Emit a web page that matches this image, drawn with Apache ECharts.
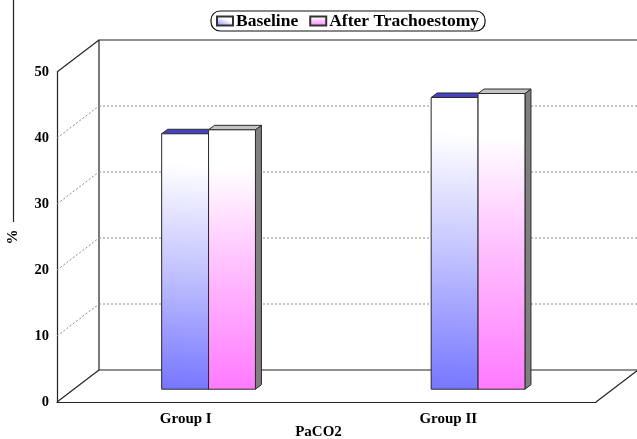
<!DOCTYPE html>
<html>
<head>
<meta charset="utf-8">
<script src="https://cdn.jsdelivr.net/npm/echarts@6/dist/echarts.min.js"></script>
<style>
  html, body { margin: 0; padding: 0; background: #fff; }
  #chart { width: 637px; height: 439px; }
</style>
</head>
<body>
<div id="chart"></div>
<script>
// PaCO2 before and after tracheostomy, per group
const categories = ['Group I', 'Group II'];
const baseline = [38.7, 44.2];
const afterTracheostomy = [39.3, 44.8];
const seriesNames = ['Baseline', 'After Trachoestomy'];
const yTicks = [0, 10, 20, 30, 40, 50];

const FONT = '"Liberation Serif", "Times New Roman", serif';
// depth of the box (back wall offset) and of the bars
const DX = 42, DY = -32;
const BAR_DEPTH = 0.4;     // bars stand at this fraction of the box depth
const BAR_DX = 6, BAR_DY = -4.5;

const chart = echarts.init(document.getElementById('chart'), null, { renderer: 'canvas' });

const blueFill = new echarts.graphic.LinearGradient(0, 1, 0.25, 0, [
  { offset: 0, color: '#7676ff' },
  { offset: 0.5, color: '#c8c8ff' },
  { offset: 0.88, color: '#ffffff' },
  { offset: 1, color: '#ffffff' }
]);
const pinkFill = new echarts.graphic.LinearGradient(0, 1, 0, 0, [
  { offset: 0, color: '#ff7aff' },
  { offset: 0.5, color: '#ffc4ff' },
  { offset: 0.85, color: '#ffffff' },
  { offset: 1, color: '#ffffff' }
]);

const barStyles = [
  { fill: blueFill, top: '#4343c4', side: '#3a3aa0' },
  { fill: pinkFill, top: '#c4c4c4', side: '#7f7f7f' }
];

function frameItem(params, api) {
  const cs = params.coordSys;
  const x0 = cs.x, x1 = cs.x + cs.width;
  const yT = cs.y, yB = cs.y + cs.height;
  const solid = { stroke: '#222', lineWidth: 1.2, fill: null };
  const dotted = { stroke: '#8a8a8a', lineWidth: 1, lineDash: [2, 2], fill: null };
  const children = [];
  // back wall
  children.push({ type: 'polyline', shape: { points: [[x1 + DX, yT + DY], [x0 + DX, yT + DY], [x0 + DX, yB + DY], [x1 + DX, yB + DY]] }, style: solid });
  // depth edges
  children.push({ type: 'line', shape: { x1: x0, y1: yT, x2: x0 + DX, y2: yT + DY }, style: solid });
  children.push({ type: 'line', shape: { x1: x0, y1: yB, x2: x0 + DX, y2: yB + DY }, style: solid });
  children.push({ type: 'line', shape: { x1: x1, y1: yB, x2: x1 + DX, y2: yB + DY }, style: solid });
  // gridlines on side and back wall
  yTicks.slice(1, -1).forEach(function (v) {
    const y = api.coord([0, v])[1];
    children.push({ type: 'line', shape: { x1: x0, y1: y, x2: x0 + DX, y2: y + DY }, style: dotted });
    children.push({ type: 'line', shape: { x1: x0 + DX, y1: y + DY, x2: x1 + DX, y2: y + DY }, style: dotted });
  });
  return { type: 'group', children: children };
}

function barRenderer(k) {
  return function (params, api) {
    const idx = api.value(0), v = api.value(1);
    const band = api.size([1, 0])[0];
    const bw = band * 0.174;
    const base = api.coord([idx, 0]);
    const topY = api.coord([idx, v])[1];
    const sx = DX * BAR_DEPTH, sy = DY * BAR_DEPTH;
    const xa = base[0] - bw + k * bw + sx, xb = xa + bw;
    const yb = base[1] + sy, yt = topY + sy;
    const st = barStyles[k];
    const edge = '#2a2a2a';
    return {
      type: 'group',
      children: [
        { type: 'polygon', shape: { points: [[xb, yt], [xb + BAR_DX, yt + BAR_DY], [xb + BAR_DX, yb + BAR_DY], [xb, yb]] },
          style: { fill: st.side, stroke: edge, lineWidth: 1 } },
        { type: 'polygon', shape: { points: [[xa, yt], [xb, yt], [xb + BAR_DX, yt + BAR_DY], [xa + BAR_DX, yt + BAR_DY]] },
          style: { fill: st.top, stroke: edge, lineWidth: 1 } },
        { type: 'rect', shape: { x: xa, y: yt, width: bw, height: yb - yt },
          style: { fill: st.fill, stroke: edge, lineWidth: 1 } }
      ]
    };
  };
}

const option = {
  backgroundColor: '#ffffff',
  animation: false,
  grid: { left: 57, right: 41, top: 72, bottom: 37, containLabel: false, outerBoundsMode: 'none' },
  legend: {
    data: seriesNames.map(function (n) { return { name: n, icon: 'rect' }; }),
    left: 211, top: 11,
    padding: [1, 6, 1, 5],
    itemGap: 11, itemWidth: 16, itemHeight: 9,
    borderColor: '#111', borderWidth: 1.2, borderRadius: 9,
    textStyle: { fontFamily: FONT, fontWeight: 'bold', fontSize: 17.5, color: '#000', padding: [0, 0, 0, -2] }
  },
  xAxis: {
    type: 'category',
    data: categories,
    name: 'PaCO2',
    nameLocation: 'middle',
    nameGap: 23,
    nameMoveOverlap: false,
    nameTextStyle: { fontFamily: FONT, fontWeight: 'bold', fontSize: 15, color: '#000', padding: [0, 16, 0, 0] },
    axisLine: { show: true, lineStyle: { color: '#222', width: 1.2 } },
    axisTick: { show: false },
    axisLabel: {
      margin: 10,
      formatter: function (v, i) { return '{g' + i + '|' + v + '}'; },
      rich: {
        g0: { fontFamily: FONT, fontWeight: 'bold', fontSize: 15, color: '#000', padding: [0, 12, 0, 0] },
        g1: { fontFamily: FONT, fontWeight: 'bold', fontSize: 15, color: '#000', padding: [0, 26, 0, 0] }
      }
    },
    splitLine: { show: false }
  },
  yAxis: {
    type: 'value',
    min: 0, max: 50, interval: 10,
    name: '%',
    nameLocation: 'middle',
    nameRotate: 90,
    nameGap: 36,
    nameMoveOverlap: false,
    nameTextStyle: { fontFamily: FONT, fontWeight: 'bold', fontSize: 15, color: '#000' },
    axisLine: { show: true, lineStyle: { color: '#222', width: 1.2 } },
    axisTick: { show: false },
    axisLabel: { margin: 8, fontFamily: FONT, fontWeight: 'bold', fontSize: 14.5, color: '#000' },
    splitLine: { show: false }
  },
  graphic: [
    { type: 'line', shape: { x1: 13.5, y1: 0, x2: 13.5, y2: 222 }, style: { stroke: '#222', lineWidth: 1.2 } }
  ],
  series: [
    { type: 'custom', name: 'frame', renderItem: frameItem, data: [[0, 0]], silent: true, z: 1 },
    { type: 'custom', name: seriesNames[0], renderItem: barRenderer(0),
      itemStyle: { color: blueFill, borderColor: '#333', borderWidth: 1 },
      data: baseline.map(function (v, i) { return [i, v]; }), z: 2 },
    { type: 'custom', name: seriesNames[1], renderItem: barRenderer(1),
      itemStyle: { color: pinkFill, borderColor: '#333', borderWidth: 1 },
      data: afterTracheostomy.map(function (v, i) { return [i, v]; }), z: 3 }
  ]
};

chart.setOption(option);
</script>
</body>
</html>
